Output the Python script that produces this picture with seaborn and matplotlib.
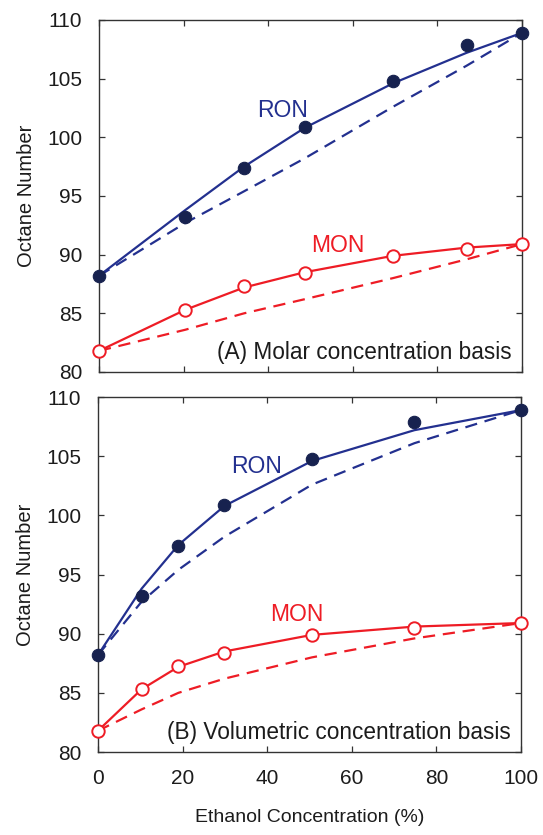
import matplotlib
matplotlib.use("Agg")
import matplotlib.pyplot as plt
import pandas as pd
import seaborn as sns

# Ethanol content of the blends, expressed on each basis (%)
molar_pct = [0, 20.4, 34.3, 48.6, 69.5, 86.9, 100]
volume_pct = [0, 10.3, 19.0, 29.9, 50.6, 74.8, 100]

# Measured octane numbers of the blends
ron_measured = [88.2, 93.2, 97.4, 100.9, 104.8, 107.9, 108.9]
mon_measured = [81.8, 85.3, 87.3, 88.4, 89.9, 90.5, 90.9]

# Blending-model predictions (solid) and linear molar blending (dashed)
ron_model = [88.2, 93.8, 97.5, 100.8, 104.6, 107.2, 108.9]
mon_model = [81.8, 85.3, 87.2, 88.5, 89.9, 90.6, 90.9]
ron_linear = [88.2, 92.7, 95.4, 98.2, 102.6, 106.1, 108.9]
mon_linear = [81.8, 83.6, 85.0, 86.2, 88.0, 89.6, 90.9]

panel_titles = ["(A) Molar concentration basis", "(B) Volumetric concentration basis"]
x_ticks = [0, 20, 40, 60, 80, 100]
y_ticks = [80, 85, 90, 95, 100, 105, 110]

sns.set_style("ticks")
plt.rcParams["font.family"] = ["Liberation Sans", "DejaVu Sans"]
plt.rcParams["font.size"] = 14

BLUE = "#23308f"
NAVY = "#17224f"
RED = "#ee1c25"
INK = "#1c1c1c"

fig = plt.figure(figsize=(5.43, 8.35), dpi=100)
ax_top = fig.add_axes([0.1823, 0.5545, 0.779, 0.4216])
ax_bot = fig.add_axes([0.1805, 0.0994, 0.779, 0.4251])

label_pos = [
    {"RON": (43.5, 102.3), "MON": (56.5, 90.8)},
    {"RON": (37.6, 104.1), "MON": (47.1, 91.6)},
]

for i, (ax, xs) in enumerate([(ax_top, molar_pct), (ax_bot, volume_pct)]):
    df = pd.DataFrame({
        "x": xs,
        "ron": ron_measured, "mon": mon_measured,
        "ron_model": ron_model, "mon_model": mon_model,
        "ron_linear": ron_linear, "mon_linear": mon_linear,
    })
    # dashed linear-blending references
    sns.lineplot(data=df, x="x", y="ron_linear", ax=ax, color=BLUE, lw=1.6,
                 linestyle=(0, (5.5, 3.5)), sort=False, zorder=2)
    sns.lineplot(data=df, x="x", y="mon_linear", ax=ax, color=RED, lw=1.6,
                 linestyle=(0, (5.5, 3.5)), sort=False, zorder=2)
    # solid model curves
    sns.lineplot(data=df, x="x", y="ron_model", ax=ax, color=BLUE, lw=1.6,
                 sort=False, zorder=3)
    sns.lineplot(data=df, x="x", y="mon_model", ax=ax, color=RED, lw=1.6,
                 sort=False, zorder=3)
    # measured points
    sns.scatterplot(data=df, x="x", y="ron", ax=ax, s=80, color=NAVY,
                    edgecolor=NAVY, linewidth=0.8, zorder=4, clip_on=False)
    sns.scatterplot(data=df, x="x", y="mon", ax=ax, s=80, color="white",
                    edgecolor=RED, linewidth=1.4, zorder=4, clip_on=False)

    ax.text(*label_pos[i]["RON"], "RON", color=BLUE, fontsize=16.5,
            ha="center", va="center")
    ax.text(*label_pos[i]["MON"], "MON", color=RED, fontsize=16.5,
            ha="center", va="center")
    ax.text(0.975, 0.055, panel_titles[i], transform=ax.transAxes,
            ha="right", va="center", fontsize=16.3, color=INK)

    ax.set_xlim(0, 100)
    ax.set_ylim(80, 110)
    ax.set_xticks(x_ticks)
    ax.set_yticks(y_ticks)
    ax.tick_params(direction="in", length=4, width=0.9, colors="#333333",
                   labelcolor=INK, labelsize=15, top=True, right=True, pad=12)
    for sp in ax.spines.values():
        sp.set_visible(True)
        sp.set_color("#333333")
        sp.set_linewidth(1.0)
    ax.set_ylabel("Octane Number", fontsize=14.5, color=INK)
    ax.yaxis.set_label_coords(-0.15, 0.5)
    ax.set_xlabel("")

ax_top.tick_params(axis="x", labelbottom=False)
ax_bot.set_xlabel("Ethanol Concentration (%)", fontsize=14, color=INK, labelpad=15)

fig.savefig("out.png", dpi=100)
